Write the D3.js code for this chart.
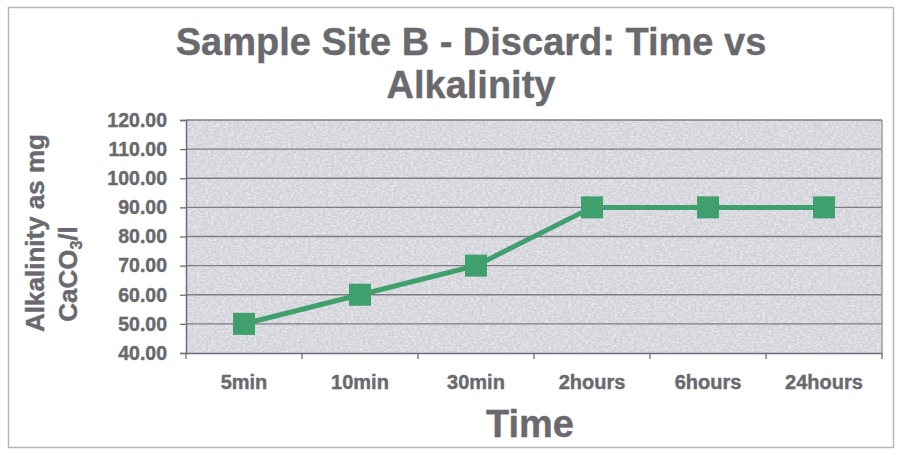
<!DOCTYPE html>
<html>
<head>
<meta charset="utf-8">
<script src="https://cdn.jsdelivr.net/npm/d3@7/dist/d3.min.js"></script>
<style>
  html, body { margin: 0; padding: 0; background: #ffffff; }
  svg { display: block; font-family: "Liberation Sans", Arial, sans-serif; }
</style>
</head>
<body>
<svg id="chart" width="901" height="455"></svg>
<script>
const categories = ["5min", "10min", "30min", "2hours", "6hours", "24hours"];
const alkalinity = [50, 60, 70, 90, 90, 90];
const yTicks = [40, 50, 60, 70, 80, 90, 100, 110, 120];
const titleLines = ["Sample Site B - Discard: Time vs", "Alkalinity"];

const svg = d3.select("#chart");
const m = { left: 186, right: 882, top: 120, bottom: 353 };
const textColor = "#69696e";
const heavy = sel => sel.attr("stroke", textColor).attr("stroke-width", 0.4);

// outer frame
svg.append("rect").attr("x", 8.5).attr("y", 7.5).attr("width", 885).attr("height", 440)
  .attr("fill", "#fff").attr("stroke", "#b8b8b8").attr("stroke-width", 1.5);

// texture filter
const defs = svg.append("defs");
const filt = defs.append("filter").attr("id", "tex").attr("x", 0).attr("y", 0).attr("width", 1).attr("height", 1);
filt.append("feTurbulence").attr("type", "fractalNoise").attr("baseFrequency", "0.35 0.55")
  .attr("numOctaves", 2).attr("seed", 3).attr("result", "noise");
filt.append("feColorMatrix").attr("in", "noise").attr("type", "matrix")
  .attr("values", "0 0 0 0 1  0 0 0 0 1  0 0 0 0 1  1.1 0 0 0 -0.4").attr("result", "spots");
filt.append("feComposite").attr("in", "spots").attr("in2", "SourceGraphic").attr("operator", "atop");

const x = d3.scaleBand().domain(categories).range([m.left, m.right]).paddingInner(0).paddingOuter(0);
const y = d3.scaleLinear().domain([40, 120]).range([m.bottom, m.top]);

// plot background
svg.append("rect").attr("x", m.left).attr("y", m.top)
  .attr("width", m.right - m.left).attr("height", m.bottom - m.top)
  .attr("fill", "#d1d1d9").attr("filter", "url(#tex)");

// gridlines
svg.append("g").selectAll("line").data(yTicks.filter(d => d > 40)).join("line")
  .attr("x1", m.left).attr("x2", m.right)
  .attr("y1", d => y(d)).attr("y2", d => y(d))
  .attr("stroke", "#7d7d84").attr("stroke-width", 1.4);

// plot border (right)
svg.append("line").attr("x1", m.right).attr("x2", m.right).attr("y1", m.top).attr("y2", m.bottom)
  .attr("stroke", "#9a9aa0").attr("stroke-width", 1.5);

// y axis
const yAxis = svg.append("g").attr("transform", `translate(${m.left},0)`)
  .call(d3.axisLeft(y).tickValues(yTicks).tickFormat(d3.format(".2f")).tickSize(6).tickPadding(13));
yAxis.select(".domain").attr("stroke", "#6e6e74").attr("stroke-width", 1.5);
yAxis.selectAll(".tick line").attr("stroke", "#6e6e74").attr("stroke-width", 1.3);
yAxis.selectAll("text").attr("fill", textColor).attr("font-size", 19.5).attr("font-weight", "bold")
  .attr("font-family", "Liberation Sans, Arial, sans-serif").call(heavy);

// x axis
const xAxis = svg.append("g").attr("transform", `translate(0,${m.bottom})`)
  .call(d3.axisBottom(x).tickSize(0).tickPadding(22));
xAxis.select(".domain").attr("stroke", "#6e6e74").attr("stroke-width", 1.5);
xAxis.selectAll("text").attr("fill", textColor).attr("font-size", 20).attr("font-weight", "bold")
  .attr("font-family", "Liberation Sans, Arial, sans-serif").call(heavy);
// category boundary ticks
svg.append("g").selectAll("line").data(categories.concat(["__end"])).join("line")
  .attr("x1", (d, i) => i < categories.length ? x(d) : m.right)
  .attr("x2", (d, i) => i < categories.length ? x(d) : m.right)
  .attr("y1", m.bottom).attr("y2", m.bottom + 6)
  .attr("stroke", "#6e6e74").attr("stroke-width", 1.3);

// line + markers
const cx = d => x(d) + x.bandwidth() / 2;
const pts = categories.map((c, i) => [cx(c), y(alkalinity[i])]);
svg.append("path").datum(pts)
  .attr("d", d3.line())
  .attr("fill", "none").attr("stroke", "#3f9f6d").attr("stroke-width", 5);
const s = 22;
svg.append("g").selectAll("rect").data(pts).join("rect")
  .attr("x", d => d[0] - s / 2).attr("y", d => d[1] - s / 2)
  .attr("width", s).attr("height", s).attr("fill", "#3f9f6d");

// title
svg.append("g").selectAll("text").data(titleLines).join("text")
  .attr("x", 471).attr("y", (d, i) => 55 + i * 43)
  .attr("text-anchor", "middle").attr("fill", textColor)
  .attr("font-size", 38).attr("font-weight", "bold").text(d => d).call(heavy);

// x title
svg.append("text").attr("x", 530).attr("y", 437).attr("text-anchor", "middle")
  .attr("fill", textColor).attr("font-size", 38).attr("font-weight", "bold").text("Time").call(heavy);

// y title
svg.append("text").attr("transform", "translate(44,233) rotate(-90)")
  .attr("text-anchor", "middle").attr("fill", textColor)
  .attr("font-size", 26).attr("font-weight", "bold").text("Alkalinity as mg").call(heavy);
const t2 = svg.append("text").attr("transform", "translate(77,274) rotate(-90)")
  .attr("text-anchor", "middle").attr("fill", textColor)
  .attr("font-size", 26).attr("font-weight", "bold").call(heavy);
t2.append("tspan").text("CaCO");
t2.append("tspan").attr("font-size", 16).attr("dy", 5).text("3");
t2.append("tspan").attr("dy", -5).text("/l");
</script>
</body>
</html>
